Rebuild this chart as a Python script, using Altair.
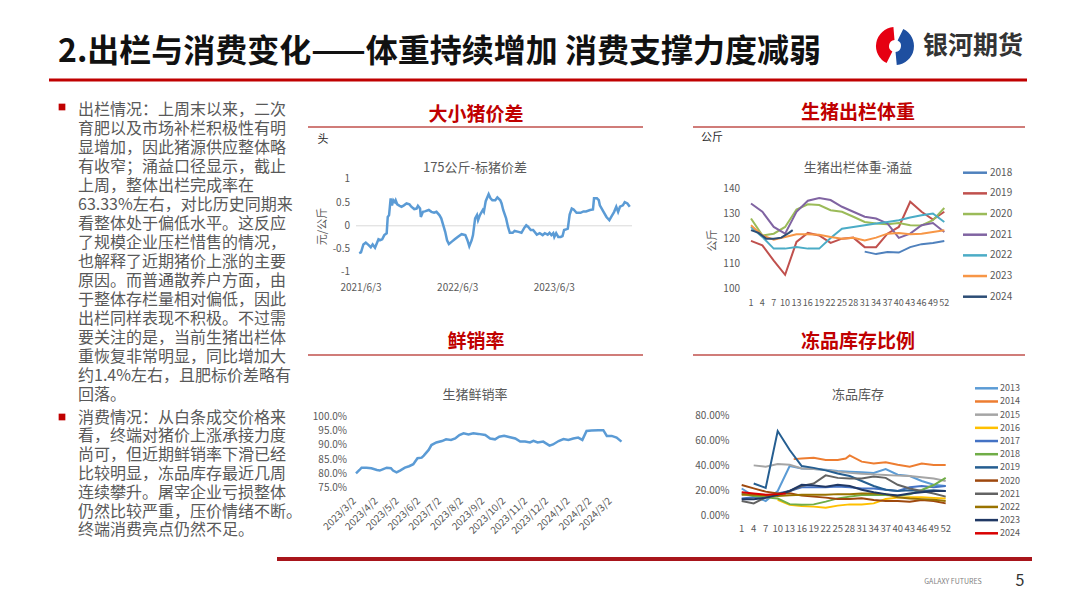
import altair as alt
import pandas as pd

OFF = 8
def px(v):
    return v - OFF

FONT = "Noto Sans CJK SC"
GRAY = "#595959"
RED = "#C00000"

# ---------------- text content ----------------
title_text = "2.出栏与消费变化——体重持续增加 消费支撑力度减弱"
logo_text = "银河期货"
para1 = [
    "出栏情况：上周末以来，二次",
    "育肥以及市场补栏积极性有明",
    "显增加，因此猪源供应整体略",
    "有收窄；涌益口径显示，截止",
    "上周，整体出栏完成率在",
    "63.33%左右，对比历史同期来",
    "看整体处于偏低水平。这反应",
    "了规模企业压栏惜售的情况，",
    "也解释了近期猪价上涨的主要",
    "原因。而普通散养户方面，由",
    "于整体存栏量相对偏低，因此",
    "出栏同样表现不积极。不过需",
    "要关注的是，当前生猪出栏体",
    "重恢复非常明显，同比增加大",
    "约1.4%左右，且肥标价差略有",
    "回落。",
]
para2 = [
    "消费情况：从白条成交价格来",
    "看，终端对猪价上涨承接力度",
    "尚可，但近期鲜销率下滑已经",
    "比较明显，冻品库存最近几周",
    "连续攀升。屠宰企业亏损整体",
    "仍然比较严重，压价情绪不断。",
    "终端消费亮点仍然不足。",
]

# ---------------- chart 1: 175kg - standard hog spread ----------------
spread_dates = [
    "2021-05-27", "2021-06-03", "2021-06-12", "2021-06-21", "2021-07-01", "2021-07-10",
    "2021-07-17", "2021-07-26", "2021-08-08", "2021-08-15", "2021-08-22", "2021-08-30",
    "2021-09-08", "2021-09-12", "2021-09-17", "2021-09-23", "2021-09-28", "2021-10-03",
    "2021-10-09", "2021-10-12", "2021-10-18", "2021-10-27", "2021-11-03", "2021-11-12",
    "2021-11-22", "2021-12-03", "2021-12-10", "2021-12-21", "2021-12-30", "2022-01-04",
    "2022-01-12", "2022-01-15", "2022-01-23", "2022-01-30", "2022-02-14", "2022-02-24",
    "2022-03-06", "2022-03-15", "2022-03-26", "2022-04-02", "2022-04-17", "2022-04-24",
    "2022-05-01", "2022-05-12", "2022-05-23", "2022-06-03", "2022-06-18", "2022-07-02",
    "2022-07-10", "2022-07-17", "2022-07-26", "2022-07-31", "2022-08-08", "2022-08-15",
    "2022-08-19", "2022-08-26", "2022-09-06", "2022-09-10", "2022-09-17", "2022-09-28",
    "2022-10-05", "2022-10-12", "2022-10-23", "2022-10-31", "2022-11-11", "2022-11-16",
    "2022-11-22", "2022-12-03", "2022-12-10", "2022-12-17", "2022-12-28", "2023-01-04",
    "2023-01-19", "2023-01-30", "2023-02-10", "2023-02-17", "2023-02-24", "2023-03-06",
    "2023-03-15", "2023-03-29", "2023-04-09", "2023-04-20", "2023-04-28", "2023-05-09",
    "2023-05-16", "2023-05-23", "2023-05-30", "2023-06-03", "2023-06-10", "2023-06-18",
    "2023-06-27", "2023-07-04", "2023-07-10", "2023-07-20", "2023-07-24", "2023-07-31",
    "2023-08-08", "2023-08-15", "2023-08-26", "2023-09-10", "2023-09-21", "2023-10-01",
    "2023-10-16", "2023-10-27", "2023-10-31", "2023-11-11", "2023-11-18", "2023-11-22",
    "2023-12-06", "2023-12-17", "2023-12-28", "2024-01-04", "2024-01-15", "2024-01-23",
    "2024-01-30", "2024-02-06", "2024-02-17", "2024-02-24", "2024-03-05", "2024-03-14",
]
spread_vals = [
    -0.59, -0.57, -0.40, -0.36, -0.41, -0.46,
    -0.40, -0.47, -0.29, -0.31, -0.29, -0.20,
    -0.16, 0.19, 0.23, 0.59, 0.44, 0.55,
    0.51, 0.55, 0.46, 0.43, 0.41, 0.44,
    0.48, 0.46, 0.41, 0.36, 0.37, 0.43,
    0.37, 0.19, 0.30, 0.31, 0.34, 0.30,
    0.28, 0.30, 0.23, 0.16, -0.13, -0.31,
    -0.39, -0.34, -0.29, -0.24, -0.18, -0.20,
    -0.31, -0.44, -0.31, -0.20, 0.16, 0.23,
    0.12, 0.23, 0.34, 0.30, 0.53, 0.68,
    0.59, 0.55, 0.55, 0.61, 0.55, 0.48,
    0.34, 0.16, -0.02, -0.15, -0.15, -0.11,
    -0.13, -0.15, -0.04, 0.01, -0.02, -0.09,
    -0.09, -0.19, -0.16, -0.20, -0.16, -0.19,
    -0.15, -0.20, -0.16, -0.24, -0.16, -0.24,
    -0.24, -0.22, -0.09, -0.07, -0.06, 0.24,
    0.37, 0.35, 0.28, 0.28, 0.31, 0.31,
    0.34, 0.35, 0.59, 0.59, 0.55, 0.44,
    0.30, 0.19, 0.12, 0.19, 0.30, 0.41,
    0.30, 0.41, 0.44, 0.51, 0.48, 0.41,
]
spread_yticks = [-1, -0.5, 0, 0.5, 1]
spread_ylabels = ["-1", "-0.5", "0", "0.5", "1"]
spread_xlabels = ["2021/6/3", "2022/6/3", "2023/6/3"]

# ---------------- chart 2: slaughter weight (Yongyi) ----------------
weeks = [1, 4, 7, 10, 13, 16, 19, 22, 25, 28, 31, 34, 37, 40, 43, 46, 49, 52]
weight_years = ["2018", "2019", "2020", "2021", "2022", "2023", "2024"]
weight_colors = ["#4F81BD", "#C0504D", "#9BBB59", "#8064A2", "#4BACC6", "#F79646", "#2C4D75"]
w2018 = [None] * 10 + [115.0, 114.0, 114.8, 114.6, 116.8, 118.0, 118.5, 119.3]
w2019 = [119.3, 117.5, 111.4, 105.7, 118.9, 122.5, 121.5, 118.5, 120.2, 120.6, 116.8, 116.8, 122.2, 124.9, 135.0, 131.0, 127.9, 131.0]
w2020 = [128.3, 121.5, 122.2, 124.9, 131.9, 134.0, 133.7, 131.6, 131.0, 129.0, 126.9, 126.3, 126.0, 126.5, 125.6, 125.5, 127.6, 132.5]
w2021 = [134.3, 131.0, 124.9, 122.2, 131.0, 135.4, 136.5, 135.7, 133.0, 131.0, 129.0, 128.3, 126.3, 120.5, 122.2, 125.6, 126.5, 122.9]
w2022 = [124.9, 120.9, 116.2, 116.2, 116.8, 116.2, 116.2, 120.5, 124.2, 124.9, 125.6, 126.3, 126.9, 127.6, 128.7, 129.6, 130.3, 126.9]
w2023 = [125.6, 121.5, 119.8, 120.9, 122.0, 122.0, 121.8, 120.9, 120.2, 120.6, 119.5, 120.6, 122.2, 122.5, 122.0, 122.2, 122.9, 123.6]
w2024_weeks = [1, 3, 5, 7, 9, 11, 12]
w2024 = [123.6, 122.5, 120.2, 120.2, 120.6, 122.5, 123.6]
weight_yticks = [100, 110, 120, 130, 140]

# ---------------- chart 3: fresh-sale rate ----------------
fresh_dates = [
    "2023-03-02", "2023-03-07", "2023-03-10", "2023-03-17", "2023-03-24", "2023-04-01",
    "2023-04-05", "2023-04-10", "2023-04-15", "2023-04-21", "2023-04-24", "2023-04-29",
    "2023-05-04", "2023-05-11", "2023-05-17", "2023-05-23", "2023-05-29", "2023-06-04",
    "2023-06-07", "2023-06-14", "2023-06-18", "2023-06-25", "2023-07-03", "2023-07-09",
    "2023-07-16", "2023-07-22", "2023-07-28", "2023-08-03", "2023-08-10", "2023-08-17",
    "2023-08-24", "2023-09-03", "2023-09-10", "2023-09-17", "2023-09-23", "2023-09-30",
    "2023-10-07", "2023-10-16", "2023-10-23", "2023-10-30", "2023-11-06", "2023-11-11",
    "2023-11-17", "2023-11-25", "2023-12-04", "2023-12-09", "2023-12-17", "2023-12-24",
    "2023-12-31", "2024-01-07", "2024-01-14", "2024-01-20", "2024-01-26", "2024-02-02",
    "2024-02-12", "2024-02-19", "2024-02-24", "2024-03-02", "2024-03-09", "2024-03-16",
]
fresh_vals = [
    80.2, 81.4, 82.2, 82.2, 82.0, 81.4,
    81.2, 81.7, 82.2, 82.0, 81.2, 80.6,
    81.2, 82.2, 82.7, 83.4, 85.5, 85.7,
    86.4, 88.4, 90.1, 91.0, 91.5, 92.1,
    91.9, 92.4, 93.6, 94.2, 93.8, 94.2,
    94.0, 93.6, 92.4, 92.1, 93.0, 93.3,
    92.9, 92.4, 91.3, 91.3, 91.0, 91.6,
    91.0, 91.3, 89.9, 90.3, 91.5, 92.2,
    91.9, 92.4, 92.7, 91.9, 95.0, 95.2,
    95.3, 95.3, 93.3, 93.3, 92.7, 91.3,
]
fresh_yticks = [75, 80, 85, 90, 95, 100]
fresh_xlabels = ["2023/3/2", "2023/4/2", "2023/5/2", "2023/6/2", "2023/7/2", "2023/8/2",
                 "2023/9/2", "2023/10/2", "2023/11/2", "2023/12/2", "2024/1/2", "2024/2/2", "2024/3/2"]

# ---------------- chart 4: frozen stock ratio ----------------
frozen_years = ["2013", "2014", "2015", "2016", "2017", "2018", "2019", "2020", "2021", "2022", "2023", "2024"]
frozen_colors = ["#5B9BD5", "#ED7D31", "#A5A5A5", "#FFC000", "#4472C4", "#70AD47",
                 "#255E91", "#9E480E", "#636363", "#997300", "#203864", "#D90000"]
f2013 = [22.0, 16.0, 12.0, 20.0, 40.0, 38.0, 37.5, 37.0, 36.0, 35.5, 35.0, 34.5, 37.5, 33.0, 32.0, 28.0, 25.0, 24.0]
f2014_weeks = [14, 16, 19, 22, 25, 27, 28, 31, 34, 37, 40, 43, 46, 49, 52]
f2014 = [45.5, 46.0, 46.5, 44.8, 44.8, 46.0, 48.5, 43.5, 42.0, 42.9, 41.0, 39.5, 42.0, 40.8, 40.8]
f2015 = [None, 40.5, 39.5, 41.5, 41.0, 38.0, 37.6, 36.8, 35.5, 34.5, 33.8, 33.3, 32.8, 32.3, 32.0, 31.0, 30.0, 28.0]
f2016 = [None, None, None, 13.0, 9.0, 8.0, 7.5, 6.7, 8.3, 9.3, 9.3, 10.1, 13.6, 14.7, 15.0, 15.0, 14.5, 14.0]
f2017 = [14.0, 15.0, 16.0, 18.0, 20.0, 23.0, 23.0, 23.0, 23.5, 23.0, 22.0, 22.0, 21.0, 20.0, 23.0, 24.0, 23.0, 24.0]
f2018 = [18.0, 16.0, 15.0, 14.0, 9.5, 9.0, 9.3, 11.5, 14.1, 15.5, 16.8, 16.8, 16.8, 16.3, 17.3, 20.8, 24.8, 30.5]
f2019 = [None, 26.0, 22.5, 68.0, 52.8, 40.0, 38.5, 36.5, 34.0, 32.0, 28.0, 24.0, 21.0, 20.0, 20.5, 20.0, 20.5, 20.0]
f2020 = [24.8, 22.1, 19.5, 18.0, 18.1, 16.3, 15.5, 14.7, 13.6, 13.6, 14.1, 12.8, 12.0, 12.0, 11.5, 12.8, 12.0, 10.1]
f2021 = [12.0, 10.0, 15.0, 17.0, 20.0, 24.0, 26.0, 32.5, 30.5, 30.0, 30.0, 31.5, 30.5, 25.0, 22.0, 20.0, 18.0, 15.5]
f2022 = [17.0, 17.0, 16.5, 16.0, 16.5, 17.0, 17.0, 17.0, 17.5, 17.5, 18.0, 18.0, 17.5, 15.0, 14.0, 13.5, 13.0, 12.0]
f2023 = [13.5, 13.5, 14.5, 17.0, 20.0, 25.0, 24.5, 23.5, 25.0, 24.0, 21.0, 19.0, 17.5, 16.5, 18.0, 19.0, 20.0, 20.0]
f2024_weeks = [1, 4, 7, 10, 12]
f2024 = [19.0, 18.0, 17.0, 17.5, 18.0]
frozen_yticks = [0, 20, 40, 60, 80]


# ---------------- helpers ----------------
def long_df(series):
    rows = []
    for name, wk, vals in series:
        for w, v in zip(wk, vals):
            if v is not None:
                rows.append({"series": name, "week": w, "value": v})
    return pd.DataFrame(rows)


def one():
    return alt.Data(values=[{"k": 1}])


def txt(s, x, y, size, color=GRAY, weight="normal", align="center", angle=0):
    return alt.Chart(one()).mark_text(
        text=s, align=align, baseline="middle", fontSize=size, font=FONT,
        fontWeight=weight, color=color, angle=angle,
    ).encode(x=alt.value(px(x)), y=alt.value(px(y)))


def hline(x0, x1, y, color, width):
    return alt.Chart(one()).mark_rule(color=color, strokeWidth=width).encode(
        x=alt.value(px(x0)), x2=alt.value(px(x1)), y=alt.value(px(y)))


def legend(years, colors, y0, y1, xs0, xs1, xl, fs):
    df = pd.DataFrame({"series": years})
    ys = alt.Scale(type="point", domain=years, range=[px(y0), px(y1)], padding=0)
    cs = alt.Scale(domain=years, range=colors)
    r = alt.Chart(df).mark_rule(strokeWidth=2.5).encode(
        y=alt.Y("series:N", scale=ys, axis=None),
        x=alt.value(px(xs0)), x2=alt.value(px(xs1)),
        color=alt.Color("series:N", scale=cs, legend=None))
    t = alt.Chart(df).mark_text(align="left", baseline="middle", fontSize=fs, font=FONT, color=GRAY).encode(
        y=alt.Y("series:N", scale=ys, axis=None), x=alt.value(px(xl)), text="series:N")
    return alt.layer(r, t)


layers = []

# ---------------- slide decorations ----------------
layers.append(txt(title_text, 58, 52, 32, color="#111111", weight="bold", align="left"))
layers.append(hline(49, 1027, 80, RED, 3))
layers.append(alt.Chart(one()).mark_arc(color="#E60012", theta=3.6, theta2=6.2, radius=19, radius2=6).encode(
    x=alt.value(px(895)), y=alt.value(px(46))))
layers.append(alt.Chart(one()).mark_arc(color="#1E4FA0", theta=0.45, theta2=3.05, radius=19, radius2=6).encode(
    x=alt.value(px(895)), y=alt.value(px(46))))
layers.append(txt(logo_text, 923, 46, 25, color="#333333", weight="bold", align="left"))

bullets = alt.Chart(pd.DataFrame({"b": [1, 2]})).mark_square(color=RED, size=45, opacity=1)
layers.append(bullets.transform_filter("datum.b == 1").encode(x=alt.value(px(62)), y=alt.value(px(107))))
layers.append(bullets.transform_filter("datum.b == 2").encode(x=alt.value(px(62)), y=alt.value(px(417))))
layers.append(alt.Chart(one()).mark_text(text=para1, align="left", baseline="top", lineHeight=19, fontSize=16,
                                         font=FONT, color=GRAY).encode(x=alt.value(px(78)), y=alt.value(px(101.5))))
layers.append(alt.Chart(one()).mark_text(text=para2, align="left", baseline="top", lineHeight=18.8, fontSize=16,
                                         font=FONT, color=GRAY).encode(x=alt.value(px(78)), y=alt.value(px(409.5))))

layers.append(hline(277, 1032, 559, "#A8151B", 4))
layers.append(txt("GALAXY FUTURES", 953, 582, 7, color="#7F7F7F"))
layers.append(txt("5", 1020, 581, 16, color="#333333"))

# panel headings
for s, cx, cy, x0, x1, uy in [
    ("大小猪价差", 476, 115, 308, 643, 127),
    ("生猪出栏体重", 858, 113, 693, 1025, 127),
    ("鲜销率", 476, 341.5, 308, 643, 355),
    ("冻品库存比例", 858, 341.5, 693, 1025, 355),
]:
    layers.append(txt(s, cx, cy, 19, color=RED, weight="bold"))
    layers.append(hline(x0, x1, uy, "#C0504D", 1.5))

# ---------------- panel 1 ----------------
x1s = alt.Scale(type="utc", domain=[alt.DateTime(year=2021, month=6, date=3, utc=True),
                                    alt.DateTime(year=2023, month=6, date=3, utc=True)],
                range=[px(361), px(554.3)], nice=False)
y1s = alt.Scale(domain=[-1, 1], range=[px(272.3), px(179.3)], nice=False, zero=False)
df1 = pd.DataFrame({"date": spread_dates, "value": spread_vals})
p1 = alt.layer(
    alt.Chart(pd.DataFrame({"v": [0]})).mark_rule(color="#D9D9D9", strokeWidth=1).encode(
        y=alt.Y("v:Q", scale=y1s, axis=None), x=alt.value(px(356)), x2=alt.value(px(632))),
    alt.Chart(df1).mark_line(color="#5B9BD5", strokeWidth=2.5).encode(
        x=alt.X("date:T", scale=x1s, axis=None), y=alt.Y("value:Q", scale=y1s, axis=None)),
    alt.Chart(pd.DataFrame({"v": spread_yticks, "label": spread_ylabels})).mark_text(
        align="right", baseline="middle", fontSize=10, font=FONT, color=GRAY).encode(
        y=alt.Y("v:Q", scale=y1s, axis=None), x=alt.value(px(350)), text="label:N"),
    alt.Chart(pd.DataFrame({"d": [pd.to_datetime(s, format="%Y/%m/%d").strftime("%Y-%m-%d") for s in spread_xlabels],
                            "label": spread_xlabels})).mark_text(
        align="center", baseline="middle", fontSize=10, font=FONT, color=GRAY).encode(
        x=alt.X("d:T", scale=x1s, axis=None), y=alt.value(px(287.5)), text="label:N"),
)
layers.append(p1)
layers.append(txt("头", 323, 140, 11, color="#262626"))
layers.append(txt("175公斤-标猪价差", 475, 168, 13))
layers.append(txt("元/公斤", 323, 226.5, 11, angle=270))

# ---------------- panel 2 ----------------
x2s = alt.Scale(domain=[1, 52], range=[px(751), px(944.3)], nice=False, zero=False)
y2s = alt.Scale(domain=[100, 140], range=[px(289), px(189.3)], nice=False, zero=False)
df2 = long_df([
    ("2018", weeks, w2018), ("2019", weeks, w2019), ("2020", weeks, w2020), ("2021", weeks, w2021),
    ("2022", weeks, w2022), ("2023", weeks, w2023), ("2024", w2024_weeks, w2024),
])
p2 = alt.layer(
    alt.Chart(df2).mark_line(strokeWidth=2).encode(
        x=alt.X("week:Q", scale=x2s, axis=None), y=alt.Y("value:Q", scale=y2s, axis=None),
        color=alt.Color("series:N", scale=alt.Scale(domain=weight_years, range=weight_colors), legend=None)),
    alt.Chart(pd.DataFrame({"v": weight_yticks})).mark_text(align="right", baseline="middle", fontSize=10,
                                                             font=FONT, color=GRAY).encode(
        y=alt.Y("v:Q", scale=y2s, axis=None), x=alt.value(px(740)), text="v:Q"),
    alt.Chart(pd.DataFrame({"w": weeks})).mark_text(align="center", baseline="middle", fontSize=9,
                                                     font=FONT, color=GRAY).encode(
        x=alt.X("w:Q", scale=x2s, axis=None), y=alt.value(px(302.5)), text="w:Q"),
)
layers.append(p2)
layers.append(txt("公斤", 712, 138, 11, color="#262626"))
layers.append(txt("生猪出栏体重-涌益", 858, 168, 13))
layers.append(txt("公斤", 713, 240.5, 11, angle=270))
layers.append(legend(weight_years, weight_colors, 172.7, 296.7, 963, 987, 990, 10))

# ---------------- panel 3 ----------------
x3s = alt.Scale(type="utc", domain=[alt.DateTime(year=2023, month=3, date=2, utc=True),
                                    alt.DateTime(year=2024, month=3, date=2, utc=True)],
                range=[px(356), px(611.7)], nice=False)
y3s = alt.Scale(domain=[75, 100], range=[px(488.3), px(416.7)], nice=False, zero=False)
df3 = pd.DataFrame({"date": fresh_dates, "value": fresh_vals})
p3 = alt.layer(
    alt.Chart(df3).mark_line(color="#5B9BD5", strokeWidth=2.5).encode(
        x=alt.X("date:T", scale=x3s, axis=None), y=alt.Y("value:Q", scale=y3s, axis=None)),
    alt.Chart(pd.DataFrame({"v": fresh_yticks})).mark_text(align="right", baseline="middle", fontSize=10,
                                                            font=FONT, color=GRAY).encode(
        y=alt.Y("v:Q", scale=y3s, axis=None), x=alt.value(px(347)),
        text=alt.Text("lab:N")).transform_calculate(lab="format(datum.v, '.1f') + '%'"),
    alt.Chart(pd.DataFrame({"d": [pd.to_datetime(s, format="%Y/%m/%d").strftime("%Y-%m-%d") for s in fresh_xlabels],
                            "label": fresh_xlabels})).mark_text(
        align="right", baseline="middle", fontSize=10, font=FONT, color=GRAY, angle=315, dx=-2).encode(
        x=alt.X("d:T", scale=x3s, axis=None), y=alt.value(px(498)), text="label:N"),
)
layers.append(p3)
layers.append(txt("生猪鲜销率", 475, 395, 13))

# ---------------- panel 4 ----------------
x4s = alt.Scale(domain=[1, 52], range=[px(741.7), px(945.7)], nice=False, zero=False)
y4s = alt.Scale(domain=[0, 80], range=[px(516), px(416)], nice=False, zero=False)
df4 = long_df([
    ("2013", weeks, f2013), ("2014", f2014_weeks, f2014), ("2015", weeks, f2015), ("2016", weeks, f2016),
    ("2017", weeks, f2017), ("2018", weeks, f2018), ("2019", weeks, f2019), ("2020", weeks, f2020),
    ("2021", weeks, f2021), ("2022", weeks, f2022), ("2023", weeks, f2023), ("2024", f2024_weeks, f2024),
])
p4 = alt.layer(
    alt.Chart(df4).mark_line(strokeWidth=2).encode(
        x=alt.X("week:Q", scale=x4s, axis=None), y=alt.Y("value:Q", scale=y4s, axis=None),
        color=alt.Color("series:N", scale=alt.Scale(domain=frozen_years, range=frozen_colors), legend=None)),
    alt.Chart(pd.DataFrame({"v": frozen_yticks})).mark_text(align="right", baseline="middle", fontSize=10,
                                                             font=FONT, color=GRAY).encode(
        y=alt.Y("v:Q", scale=y4s, axis=None), x=alt.value(px(729.5)),
        text=alt.Text("lab:N")).transform_calculate(lab="format(datum.v, '.2f') + '%'"),
    alt.Chart(pd.DataFrame({"w": weeks})).mark_text(align="center", baseline="middle", fontSize=9.5,
                                                     font=FONT, color=GRAY).encode(
        x=alt.X("w:Q", scale=x4s, axis=None), y=alt.value(px(528.5)), text="w:Q"),
)
layers.append(p4)
layers.append(txt("冻品库存", 858, 395, 13))
layers.append(legend(frozen_years, frozen_colors, 388.3, 533.3, 975, 998, 1000, 9))

chart = alt.layer(*layers).resolve_scale(
    x="independent", y="independent", color="independent"
).properties(
    width=1064, height=592, padding=0, autosize=alt.AutoSizeParams(type="none"), background="white"
).configure_view(stroke=None)

chart.save("out.html", embed_options={"renderer": "svg", "actions": False})
